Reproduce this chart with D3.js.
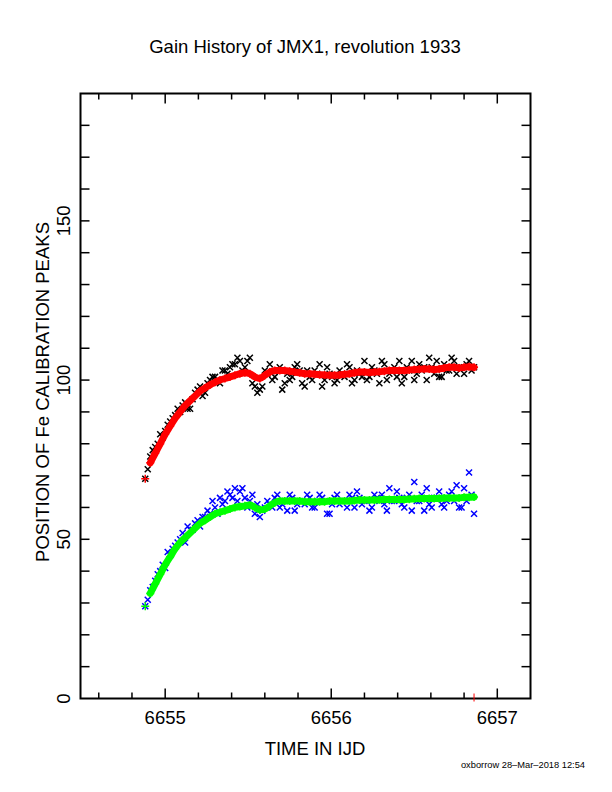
<!DOCTYPE html>
<html><head><meta charset="utf-8">
<script src="https://cdn.jsdelivr.net/npm/d3@7"></script>
<style>body{margin:0;background:#fff}text{font-family:"Liberation Sans",Arial,sans-serif}</style>
</head><body><svg id="c" width="612" height="792"></svg>
<script>
const times=[6654.88,6654.91,6654.94,6654.97,6655.00,6655.03,6655.06,6655.09,6655.12,6655.15,6655.18,6655.21,6655.24,6655.27,6655.30,6655.33,6655.36,6655.39,6655.42,6655.45,6655.48,6655.51,6655.54,6655.57,6655.60,6655.63,6655.66,6655.69,6655.72,6655.75,6655.78,6655.81,6655.84,6655.87,6655.90,6655.93,6655.96,6655.99,6656.02,6656.05,6656.08,6656.11,6656.14,6656.17,6656.20,6656.23,6656.26,6656.29,6656.32,6656.35,6656.38,6656.41,6656.44,6656.47,6656.50,6656.53,6656.56,6656.59,6656.62,6656.65,6656.68,6656.71,6656.74,6656.77,6656.80,6656.83,6656.86];
const times2=[6654.895,6654.925,6654.955,6654.985,6655.015,6655.045,6655.075,6655.105,6655.135,6655.165,6655.195,6655.225,6655.255,6655.285,6655.315,6655.345,6655.375,6655.405,6655.435,6655.465,6655.495,6655.525,6655.555,6655.585,6655.615,6655.645,6655.675,6655.705,6655.735,6655.765,6655.795,6655.825,6655.855,6655.885,6655.915,6655.945,6655.975,6656.005,6656.035,6656.065,6656.095,6656.125,6656.155,6656.185,6656.215,6656.245,6656.275,6656.305,6656.335,6656.365,6656.395,6656.425,6656.455,6656.485,6656.515,6656.545,6656.575,6656.605,6656.635,6656.665,6656.695,6656.725,6656.755,6656.785,6656.815,6656.845];
const redFit=[69,74,77,80,83,85.5,88,90,92,93.5,95,96.5,97.5,98.5,99.3,100,100.5,101,101.5,102,102.3,102,101,100.5,101.5,102.5,103,103,103,102.8,102.5,102.3,102,102,101.8,101.7,101.6,101.5,101.5,101.6,101.8,102,102.3,102.5,102.5,102.4,102.5,102.6,102.8,103,103,103,103,103.2,103.3,103.4,103.5,103.5,103.3,103.5,103.8,104,104,103.8,104,104.2,104];
const blackPts=[69,76,79,83,84,87,89,90,93,91,96,98,96,100,101,99,103,104,105,106,104,107,98,97,103,105,101,104,99,100,104,103,98,101,103,105,100,102,99,103,101,104,100,102,106,101,103,99,105,102,104,106,101,103,100,105,104,107,102,101,105,103,106,104,102,106,104];
const blackPts2=[72,78,80,82,86,88,91,92,91,94,97,95,99,101,100,103,102,105,107,103,106,99,96,98,102,100,103,97,102,101,105,99,103,100,102,98,104,101,100,102,105,99,103,101,100,104,102,106,100,103,101,99,104,106,102,103,100,104,106,101,103,107,102,104,105,103];
const greenFit=[29,33,36,39,42,44.5,47,49,50.5,52,53.5,55,56,57,58,58.5,59,59.5,60,60.3,60.5,60.8,60,59.3,59.5,60.5,61.5,62,62,62,62,62,61.8,61.8,61.8,61.8,61.8,62,62,62,62,62,62.2,62.3,62.3,62.3,62.3,62.4,62.5,62.5,62.5,62.5,62.5,62.6,62.7,62.8,62.8,62.8,62.8,62.8,63,63,63,63,63.2,63.2,63.3];
const bluePts=[29,34,37,40,41,45,48,50,49,53,55,54,57,58,60,63,62,64,66,65,63,62,58,57,60,61,63,60,62,64,59,62,61,63,60,64,62,58,63,61,62,64,60,63,62,59,64,62,61,66,62,63,60,64,68,62,59,61,63,65,60,64,62,60,66,71,58];
const bluePts2=[31,35,39,42,46,47,49,52,54,53,56,57,59,62,58,61,65,63,62,66,60,64,61,59,62,60,64,61,59,63,61,62,64,60,62,63,58,61,64,62,60,63,65,61,62,60,63,64,59,62,65,61,63,59,62,64,66,60,63,61,62,65,67,60,62,64];
const xTickLabels=[6655,6656,6657];
const yTickLabels=[0,50,100,150];

const svg=d3.select("#c");
const L=80.5,R=530.5,T=93.5,B=698.5;
const x=d3.scaleLinear().domain([6654.49,6657.2]).range([L,R]);
const y=d3.scaleLinear().domain([0,190]).range([B,T]);
const g=svg.append("g");
const xt=d3.range(6654.6,6657.2,0.2).map(v=>+v.toFixed(1));
xt.forEach(v=>{const len=Math.abs(v-Math.round(v))<1e-6?10:6;
 g.append("line").attr("x1",x(v)).attr("x2",x(v)).attr("y1",B).attr("y2",B-len).attr("stroke","#000").attr("stroke-width",1.5);
 g.append("line").attr("x1",x(v)).attr("x2",x(v)).attr("y1",T).attr("y2",T+len).attr("stroke","#000").attr("stroke-width",1.5);});
d3.range(10,190,10).forEach(v=>{const len=9;
 g.append("line").attr("x1",L).attr("x2",L+len).attr("y1",y(v)).attr("y2",y(v)).attr("stroke","#000").attr("stroke-width",1.5);
 g.append("line").attr("x1",R).attr("x2",R-len).attr("y1",y(v)).attr("y2",y(v)).attr("stroke","#000").attr("stroke-width",1.5);});
g.append("rect").attr("x",L).attr("y",T).attr("width",R-L).attr("height",B-T).attr("fill","none").attr("stroke","#000").attr("stroke-width",2);
xTickLabels.forEach(v=>g.append("text").attr("x",x(v)).attr("y",724).attr("text-anchor","middle").attr("font-size",18.5).text(v));
yTickLabels.forEach(v=>g.append("text").attr("transform",`translate(70,${y(v)}) rotate(-90)`).attr("text-anchor","middle").attr("font-size",18.5).text(v));
svg.append("text").attr("x",305).attr("y",53).attr("text-anchor","middle").attr("font-size",18.5).text("Gain History of JMX1, revolution 1933");
svg.append("text").attr("x",315).attr("y",755).attr("text-anchor","middle").attr("font-size",18.5).text("TIME IN IJD");
svg.append("text").attr("transform","translate(49,392) rotate(-90)").attr("text-anchor","middle").attr("font-size",18.5).text("POSITION OF Fe CALIBRATION PEAKS");
svg.append("text").attr("x",585).attr("y",768).attr("text-anchor","end").attr("font-size",9.3).text("oxborrow 28\u2013Mar\u20132018 12:54");
svg.append("line").attr("x1",x(6656.86)).attr("x2",x(6656.86)).attr("y1",B+3).attr("y2",B-5).attr("stroke","red").attr("stroke-width",1);
function cross(sel,data,vals,col,s){
 sel.selectAll(null).data(data).enter().append("path")
 .attr("d",(d,i)=>{const cx=x(d),cy=y(vals[i]);return `M${cx-s},${cy-s}L${cx+s},${cy+s}M${cx-s},${cy+s}L${cx+s},${cy-s}`;})
 .attr("stroke",col).attr("stroke-width",1.5);}
function plus(sel,data,vals,col,s){
 sel.selectAll(null).data(data).enter().append("path")
 .attr("d",(d,i)=>{const cx=x(d),cy=y(vals[i]);return `M${cx-s},${cy}L${cx+s},${cy}M${cx},${cy-s}L${cx},${cy+s}`;})
 .attr("stroke",col).attr("stroke-width",1.5);}
cross(svg.append("g"),times,blackPts,"#000",3);
cross(svg.append("g"),times2,blackPts2,"#000",3);
cross(svg.append("g"),times,bluePts,"#0000ff",3);
cross(svg.append("g"),times2,bluePts2,"#0000ff",3);
[[redFit,"#ff0000"],[greenFit,"#00ff00"]].forEach(([v,c])=>{
 svg.append("path").datum(v.slice(1)).attr("d",d3.line().x((d,i)=>x(times[i+1])).y(d=>y(d)).curve(d3.curveMonotoneX))
  .attr("fill","none").attr("stroke",c).attr("stroke-width",7).attr("stroke-linecap","round");
 plus(svg.append("g"),times,v,c,4);
});
</script></body></html>
